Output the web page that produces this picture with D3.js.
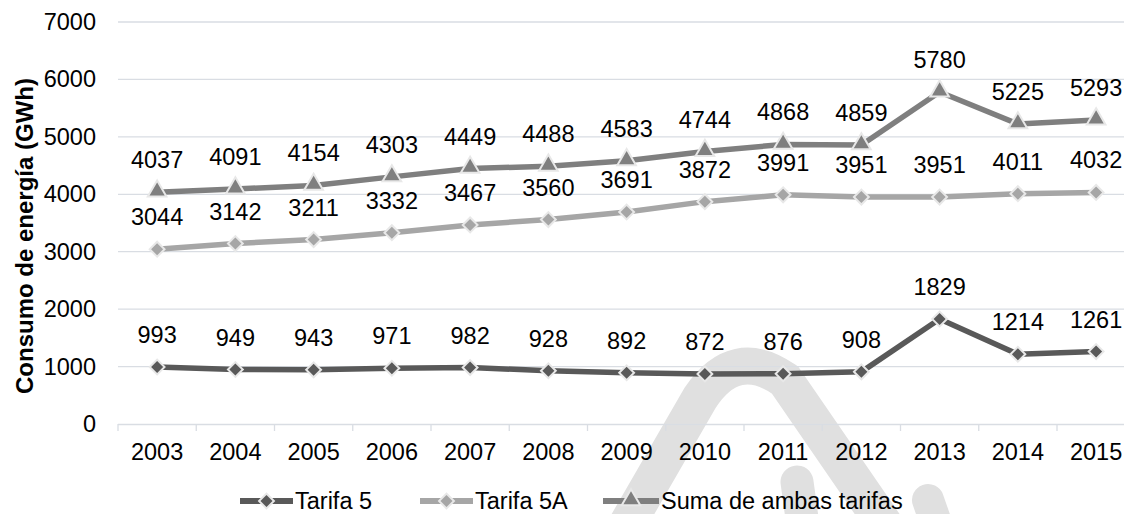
<!DOCTYPE html>
<html>
<head>
<meta charset="utf-8">
<script src="https://cdn.jsdelivr.net/npm/d3@7"></script>
<style>
  html, body { margin: 0; padding: 0; background: #fff; }
  svg { display: block; font-family: "Liberation Sans", Arial, sans-serif; }
</style>
</head>
<body>
<svg id="chart" width="1124" height="514"></svg>
<script>
// Energy consumption by tariff, 2003-2015 (GWh)
const years = ["2003","2004","2005","2006","2007","2008","2009","2010","2011","2012","2013","2014","2015"];
const tarifa5  = [993, 949, 943, 971, 982, 928, 892, 872, 876, 908, 1829, 1214, 1261];
const tarifa5A = [3044, 3142, 3211, 3332, 3467, 3560, 3691, 3872, 3991, 3951, 3951, 4011, 4032];
const suma     = [4037, 4091, 4154, 4303, 4449, 4488, 4583, 4744, 4868, 4859, 5780, 5225, 5293];
const yTicks   = [0, 1000, 2000, 3000, 4000, 5000, 6000, 7000];
const seriesNames = ["Tarifa 5", "Tarifa 5A", "Suma de ambas tarifas"];

const series = [
  { name: seriesNames[0], values: tarifa5,  color: "#595959", marker: "diamond" },
  { name: seriesNames[1], values: tarifa5A, color: "#a6a6a6", marker: "diamond" },
  { name: seriesNames[2], values: suma,     color: "#7f7f7f", marker: "triangle" }
];

const svg = d3.select("#chart");
const W = 1124, H = 514;
const left = 118, bandW = 78.25;
const FS = 23.5;

const x = d3.scaleBand().domain(years).range([left, left + years.length * bandW]).padding(0);
const y = d3.scaleLinear().domain([0, 7000]).range([424, 22]);
const cx = d => x(d) + x.bandwidth() / 2;

// faint background emblem
const wm = svg.append("g").attr("fill", "none").attr("stroke", "#e0e0e0").attr("stroke-width", 37);
wm.append("path").attr("d", "M618,540 L700,398 Q735,345 785,380 L895,540");
wm.append("path").attr("d", "M797,482 L805,540").attr("stroke-width", 33).attr("stroke-linecap", "round");
wm.append("path").attr("d", "M928,500 L942,540").attr("stroke-width", 32).attr("stroke-linecap", "round");

// horizontal gridlines
svg.append("g")
  .selectAll("line")
  .data(yTicks.filter(t => t > 0))
  .join("line")
  .attr("x1", left).attr("x2", W)
  .attr("y1", d => y(d)).attr("y2", d => y(d))
  .attr("stroke", "#d9dde3").attr("stroke-width", 1.3);

// y axis labels
const yAxis = d3.axisLeft(y).tickValues(yTicks).tickSize(0).tickPadding(0).tickFormat(d3.format("d"));
const gy = svg.append("g").attr("transform", "translate(96,0)").call(yAxis);
gy.select(".domain").remove();
gy.selectAll("text").attr("font-size", FS).attr("fill", "#000").attr("font-family", "Liberation Sans, Arial, sans-serif");

// x axis with tick marks at band boundaries
const xAxis = d3.axisBottom(x).tickSize(0).tickPadding(19);
const gx = svg.append("g").attr("transform", `translate(0,${y(0)})`).call(xAxis);
gx.select(".domain").attr("stroke", "#d9dde3").attr("stroke-width", 1.3)
  .attr("d", `M${left},0.5H${W}`);
gx.selectAll("text").attr("font-size", FS).attr("fill", "#000").attr("font-family", "Liberation Sans, Arial, sans-serif");
svg.append("g")
  .selectAll("line")
  .data(years.concat(["end"]))
  .join("line")
  .attr("x1", (d, i) => left + i * bandW).attr("x2", (d, i) => left + i * bandW)
  .attr("y1", y(0)).attr("y2", y(0) + 7)
  .attr("stroke", "#d9dde3").attr("stroke-width", 1.3);

// y axis title
svg.append("text")
  .attr("transform", "translate(33,236) rotate(-90)")
  .attr("text-anchor", "middle")
  .attr("font-size", 24)
  .attr("font-weight", "bold")
  .attr("fill", "#000")
  .text("Consumo de energía (GWh)");

// marker shapes
const triangle = d3.symbol().type(d3.symbolTriangle).size(150);
function markerPath(kind) { return kind === "triangle" ? triangle() : d3.symbol().type(d3.symbolSquare).size(110)(); }

const line = d3.line().x((d, i) => cx(years[i])).y(d => y(d));

series.forEach(s => {
  svg.append("path")
    .datum(s.values)
    .attr("d", line)
    .attr("fill", "none")
    .attr("stroke", s.color)
    .attr("stroke-width", 5.5)
    .attr("stroke-linejoin", "round");
});

series.forEach(s => {
  svg.append("g")
    .selectAll("path")
    .data(s.values)
    .join("path")
    .attr("d", markerPath(s.marker))
    .attr("transform", (d, i) => s.marker === "triangle"
      ? `translate(${cx(years[i])},${y(d) - 1})`
      : `translate(${cx(years[i])},${y(d)}) rotate(45)`)
    .attr("fill", s.color)
    .attr("stroke", "#e8e8e8")
    .attr("stroke-width", 2);
});

// value labels
series.forEach(s => {
  svg.append("g")
    .selectAll("text")
    .data(s.values)
    .join("text")
    .attr("x", (d, i) => cx(years[i]))
    .attr("y", d => y(d) - 24)
    .attr("text-anchor", "middle")
    .attr("font-size", FS)
    .attr("fill", "#000")
    .text(d => d);
});

// legend
const legendItems = [
  { s: series[0], x0: 240, tx: 295 },
  { s: series[1], x0: 420, tx: 475 },
  { s: series[2], x0: 603, tx: 661 }
];
const ly = 501;
const lg = svg.append("g");
legendItems.forEach(item => {
  const g = lg.append("g");
  const x1 = item.tx - 2;
  g.append("line").attr("x1", item.x0).attr("x2", x1).attr("y1", ly).attr("y2", ly)
    .attr("stroke", item.s.color).attr("stroke-width", 6);
  const mx = (item.x0 + x1) / 2;
  g.append("path")
    .attr("d", markerPath(item.s.marker))
    .attr("transform", item.s.marker === "triangle" ? `translate(${mx},${ly - 1})` : `translate(${mx},${ly}) rotate(45)`)
    .attr("fill", item.s.color).attr("stroke", "#e8e8e8").attr("stroke-width", 2);
  g.append("text").attr("x", item.tx).attr("y", ly + 8)
    .attr("font-size", FS).attr("fill", "#000").text(item.s.name);
});
</script>
</body>
</html>
